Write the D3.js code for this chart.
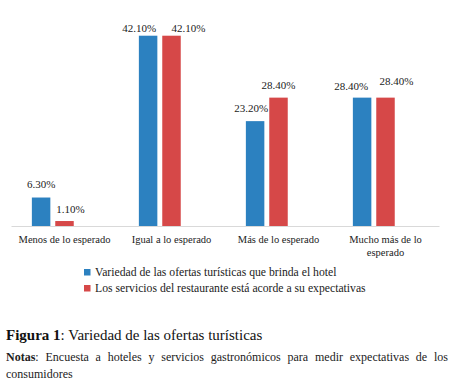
<!DOCTYPE html>
<html>
<head>
<meta charset="utf-8">
<script src="https://cdn.jsdelivr.net/npm/d3@7"></script>
<style>
  html, body { margin: 0; padding: 0; background: #fff; }
  svg { display: block; }
</style>
</head>
<body>
<svg id="chart" width="451" height="383"></svg>
<script>
// ---- data ----
const categories = ["Menos de lo esperado", "Igual a lo esperado", "Más de lo esperado", "Mucho más de lo esperado"];
const seriesNames = ["Variedad de las ofertas turísticas que brinda el hotel", "Los servicios del restaurante está acorde a su expectativas"];
const variedadHotel = [6.3, 42.1, 23.2, 28.4];
const serviciosRestaurante = [1.1, 42.1, 28.4, 28.4];
const valueLabels = [["6.30%", "42.10%", "23.20%", "28.40%"], ["1.10%", "42.10%", "28.40%", "28.40%"]];
const captionBold = "Figura 1";
const captionText = ": Variedad de las ofertas turísticas";
const notasBold = "Notas";
const notasLines = [": Encuesta a hoteles y servicios gastronómicos para medir expectativas de los", "consumidores"];

// ---- styles / layout ----
const colors = ["#2c81c0", "#d64848"];
const labelDx = [[0, -9, -4, -11], [6, 17, 0, 11]];
const labelGap = [[9.5, 3.5, 9.5, 7.5], [8, 3.5, 9, 12.5]];
const font = "Liberation Serif";

const svg = d3.select("#chart");
const series = [variedadHotel, serviciosRestaurante];

const x = d3.scaleBand().domain(categories).range([11, 439]).paddingInner(0.39).paddingOuter(0.195);
// three slots per group (third slot empty, as in the original layout)
const xs = d3.scaleBand().domain([0, 1, 2]).range([0, x.bandwidth()]).paddingInner(0.21).paddingOuter(0);
const y = d3.scaleLinear().domain([0, 50]).range([226, 0]);

// axis baseline
const xAxis = d3.axisBottom(x).tickSize(0).tickPadding(0);
const gx = svg.append("g").attr("transform", `translate(0,${y(0)})`).call(xAxis);
gx.select(".domain").attr("stroke", "#d9d9d9").attr("stroke-width", 1);
gx.selectAll(".tick text").remove();

// bars
series.forEach((vals, si) => {
  svg.append("g").selectAll("rect").data(vals).join("rect")
    .attr("x", (d, i) => x(categories[i]) + xs(si))
    .attr("width", xs.bandwidth())
    .attr("y", d => y(d))
    .attr("height", d => y(0) - y(d))
    .attr("fill", colors[si]);
  svg.append("g").selectAll("text").data(vals).join("text")
    .attr("x", (d, i) => x(categories[i]) + xs(si) + xs.bandwidth() / 2 + labelDx[si][i])
    .attr("y", (d, i) => y(d) - labelGap[si][i])
    .attr("text-anchor", "middle")
    .attr("font-family", font).attr("font-size", 11).attr("fill", "#222")
    .text((d, i) => valueLabels[si][i]);
});

// category labels with wrapping
const catG = svg.append("g");
categories.forEach(c => {
  const cx = x(c) + x.bandwidth() / 2;
  const t = catG.append("text")
    .attr("x", cx).attr("y", 242.5)
    .attr("text-anchor", "middle")
    .attr("font-family", font).attr("font-size", 10.5).attr("fill", "#222");
  const words = c.split(" ");
  let line = [];
  let ts = t.append("tspan").attr("x", cx).attr("dy", 0);
  words.forEach(w => {
    line.push(w);
    ts.text(line.join(" "));
    if (ts.node().getComputedTextLength() > 95 && line.length > 1) {
      line.pop();
      ts.text(line.join(" "));
      line = [w];
      ts = t.append("tspan").attr("x", cx).attr("dy", 13.5).text(w);
    }
  });
});

// legend
const leg = svg.append("g").attr("transform", "translate(84,269)");
seriesNames.forEach((n, i) => {
  const g = leg.append("g").attr("transform", `translate(0,${i * 16})`);
  g.append("rect").attr("width", 6.5).attr("height", 6.5).attr("fill", colors[i]);
  g.append("text").attr("x", 11).attr("y", 6.5)
    .attr("font-family", font).attr("font-size", 11.7).attr("fill", "#222").text(n);
});

// caption
const cap = svg.append("text").attr("x", 6).attr("y", 340)
  .attr("font-family", font).attr("font-size", 15).attr("fill", "#111");
cap.append("tspan").attr("font-weight", "bold").text(captionBold);
cap.append("tspan").text(captionText);

// notes (first line justified to the text width)
const notesWidth = 442;
const n1 = svg.append("text").attr("x", 6).attr("y", 361)
  .attr("font-family", font).attr("font-size", 12).attr("fill", "#222");
n1.append("tspan").attr("font-weight", "bold").text(notasBold);
n1.append("tspan").text(notasLines[0]);
const len = n1.node().getComputedTextLength();
const spaces = (notasBold + notasLines[0]).split(" ").length - 1;
n1.attr("word-spacing", Math.max(0, (notesWidth - len) / spaces));
svg.append("text").attr("x", 6).attr("y", 377.5)
  .attr("font-family", font).attr("font-size", 12).attr("fill", "#222").text(notasLines[1]);
</script>
</body>
</html>
